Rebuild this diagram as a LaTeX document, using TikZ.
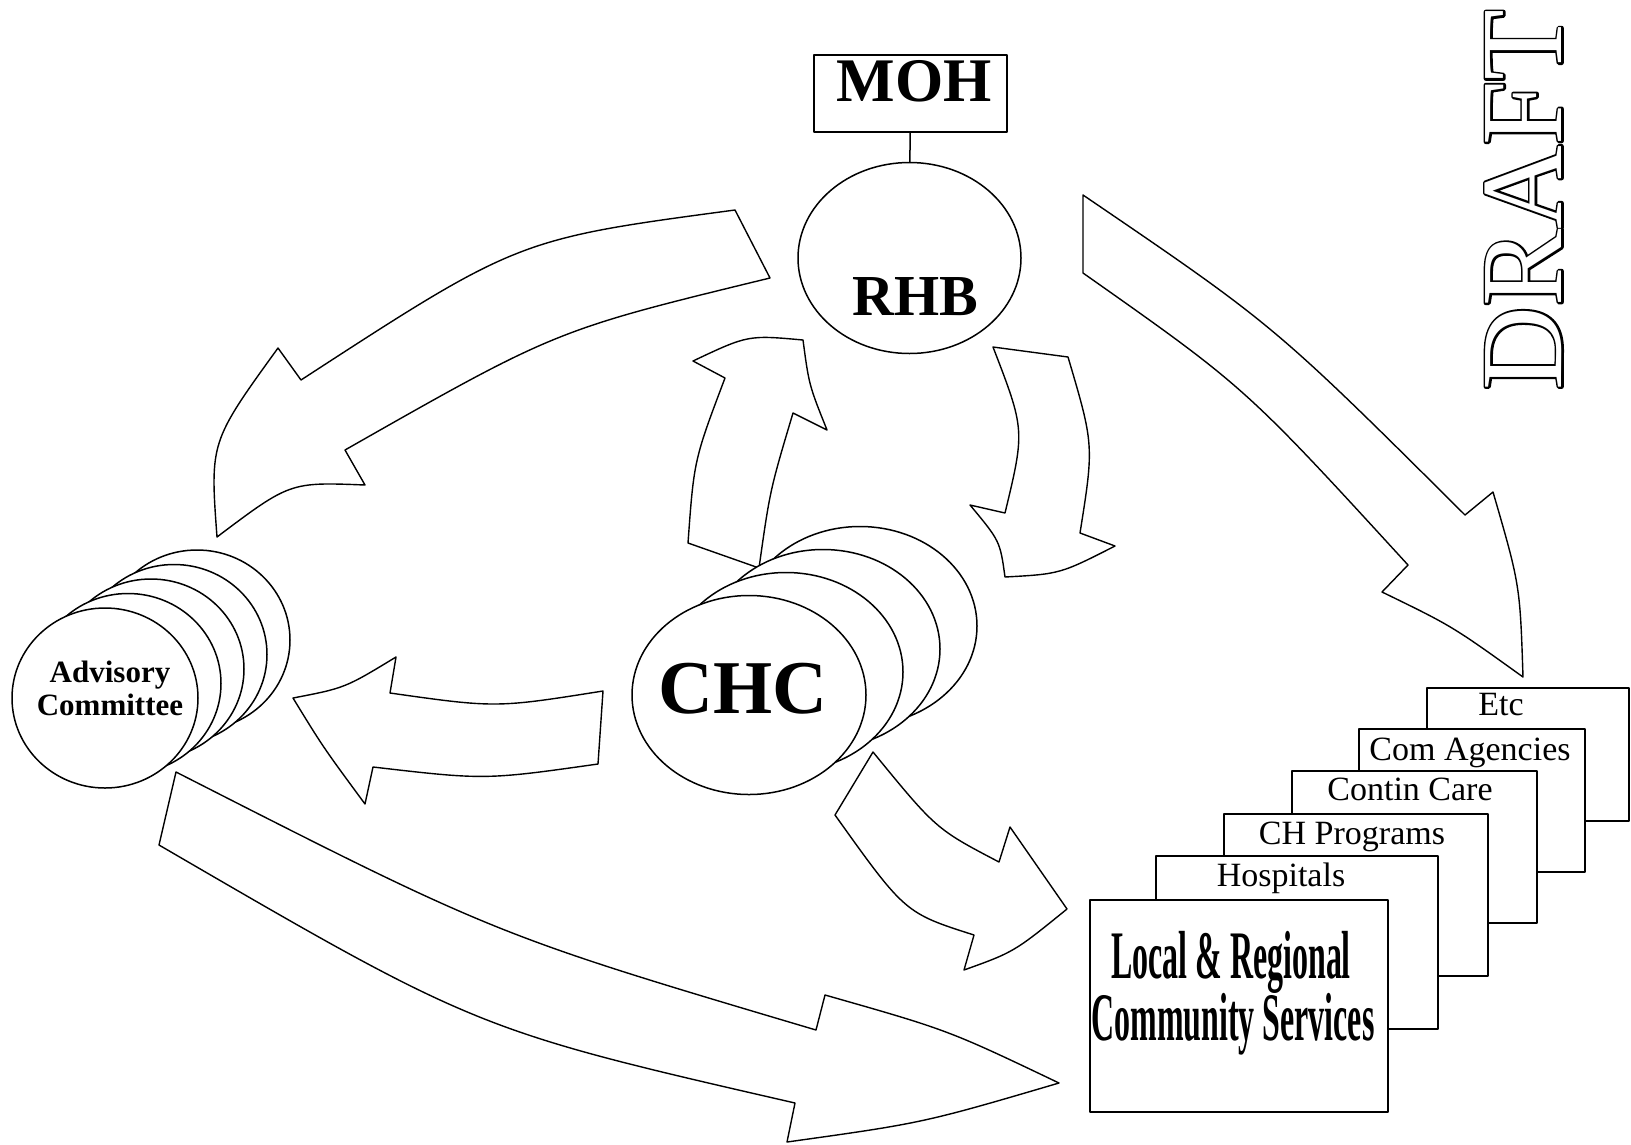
\documentclass[tikz,border=0pt]{standalone}
\usepackage{fontspec}
\setmainfont{Liberation Serif}
\newfontfamily\draftfont{Liberation Serif}
\newfontfamily\draftfat[FakeBold=3.6]{Liberation Serif}
\usepackage{graphicx}
\usetikzlibrary{shapes, positioning}

\begin{document}
\begin{tikzpicture}[x=1pt, y=-1pt, line width=1.5pt, line join=round,
	blob/.style={draw, ellipse, fill=white, inner sep=0pt},
	card/.style={draw, rectangle, fill=white, inner sep=0pt, anchor=north west},
	fatarrow/.style={draw, fill=white, line width=1.4pt},
	cardtext/.style={anchor=base, font=\fontsize{34}{34}\selectfont}]
	\useasboundingbox (0,0) rectangle (1631,1144);

	% arrows %
	\draw[fatarrow] (735,210) -- (770,278) .. controls (556,330) .. (345,450) -- (365,485)
		.. controls (290,482) .. (217,537) .. controls (210,442) .. (278,348) -- (301,380)
		.. controls (518,239) .. (735,210) -- cycle;
	\draw[fatarrow] (1083,195) -- (1083,273) .. controls (1245,387) .. (1408,565) -- (1382,592)
		.. controls (1452,626) .. (1523,677) .. controls (1520,585) .. (1493,492) -- (1465,515)
		.. controls (1274,325) .. (1083,195) -- cycle;
	\draw[fatarrow] (688,543) -- (759,568) .. controls (770,490) .. (793,413) -- (827,430)
		.. controls (809,385) .. (803,340) .. controls (748,335) .. (693,361) -- (725,378)
		.. controls (694,460) .. (688,543) -- cycle;
	\draw[fatarrow] (993,347) -- (1068,357) .. controls (1094,445) .. (1080,533) -- (1115,546)
		.. controls (1060,574) .. (1005,577) .. controls (1000,541) .. (970,505) -- (1005,513)
		.. controls (1025,430) .. (993,347) -- cycle;
	\draw[fatarrow] (603,691) -- (598,764) .. controls (485,780) .. (373,767) -- (365,804)
		.. controls (323,747) .. (293,698) .. controls (345,688) .. (396,657) -- (390,693)
		.. controls (496,708) .. (603,691) -- cycle;
	\draw[fatarrow] (873,752) -- (835,815) .. controls (905,913) .. (974,935) -- (964,970)
		.. controls (1014,952) .. (1067,909) -- (1010,827) -- (999,862)
		.. controls (936,829) .. (873,752) -- cycle;
	\draw[fatarrow] (176,772) -- (159,845) .. controls (477,1030) .. (795,1103) -- (787,1142)
		.. controls (923,1123) .. (1059,1083) .. controls (948,1030) .. (825,995) -- (816,1030)
		.. controls (496,935) .. (176,772) -- cycle;

	% nodes %
	\node[card, minimum width=193pt, minimum height=77pt] (moh) at (813,54) {};
	\node[anchor=base, font=\bfseries\fontsize{62}{62}\selectfont] (mohtext) at (914,101) {MOH};
	\node[blob, minimum width=223pt, minimum height=191pt] (rhb) at (909.5,258) {};
	\node[anchor=base, font=\bfseries\fontsize{58}{58}\selectfont] (rhbtext) at (915,315) {RHB};

	\foreach \k in {3,2,1}
		\node[blob, minimum width=234pt, minimum height=199pt] (chc\k) at ({749+37*\k},{695-23*\k}) {};
	\node[blob, minimum width=234pt, minimum height=199pt] (chc) at (749,695) {};
	\node[anchor=base, font=\bfseries\fontsize{76}{76}\selectfont] (chctext) at (743,713) {CHC};

	\foreach \k in {4,3,2,1}
		\node[blob, minimum width=186pt, minimum height=180pt] (adv\k) at ({105+23*\k},{698-14.5*\k}) {};
	\node[blob, minimum width=186pt, minimum height=180pt] (adv) at (105,698) {};
	\node[anchor=base, font=\bfseries\fontsize{31}{31}\selectfont] (advtexta) at (110,682) {Advisory};
	\node[anchor=base, font=\bfseries\fontsize{31}{31}\selectfont] (advtextb) at (110,715) {Committee};

	% stacked services %
	\node[card, minimum width=202pt, minimum height=133pt] (etc) at (1426,687) {};
	\node[cardtext] (etctext) at (1501,715) {Etc};
	\node[card, minimum width=226pt, minimum height=143pt] (comag) at (1358,728) {};
	\node[cardtext] (comagtext) at (1470,760) {Com Agencies};
	\node[card, minimum width=245pt, minimum height=152pt] (contin) at (1291,770) {};
	\node[cardtext] (contintext) at (1410,800) {Contin Care};
	\node[card, minimum width=264pt, minimum height=162pt] (chprog) at (1223,813) {};
	\node[cardtext] (chprogtext) at (1352,844) {CH Programs};
	\node[card, minimum width=282pt, minimum height=173pt] (hosp) at (1155,855) {};
	\node[cardtext] (hosptext) at (1281,886) {Hospitals};
	\node[card, minimum width=298pt, minimum height=212pt] (local) at (1089,899) {};
	\node[anchor=base, font=\bfseries\fontsize{68}{68}\selectfont] (localtexta) at (1231,978)
		{\scalebox{0.47}[1]{Local \& Regional}};
	\node[anchor=base, font=\bfseries\fontsize{68}{68}\selectfont] (localtextb) at (1233,1040)
		{\scalebox{0.47}[1]{Community Services}};

	% outlined stamp: fat black copy under a white copy
	\node[rotate=90, inner sep=0pt, font=\draftfat\fontsize{116}{116}\selectfont] (draftrim) at (1523.5,200) {DRAFT};
	\node[rotate=90, inner sep=0pt, text=white, font=\draftfont\fontsize{116}{116}\selectfont] (draft) at (1523.5,200) {DRAFT};

	% edges %
	\draw (moh) -- (rhb);
\end{tikzpicture}
\end{document}
